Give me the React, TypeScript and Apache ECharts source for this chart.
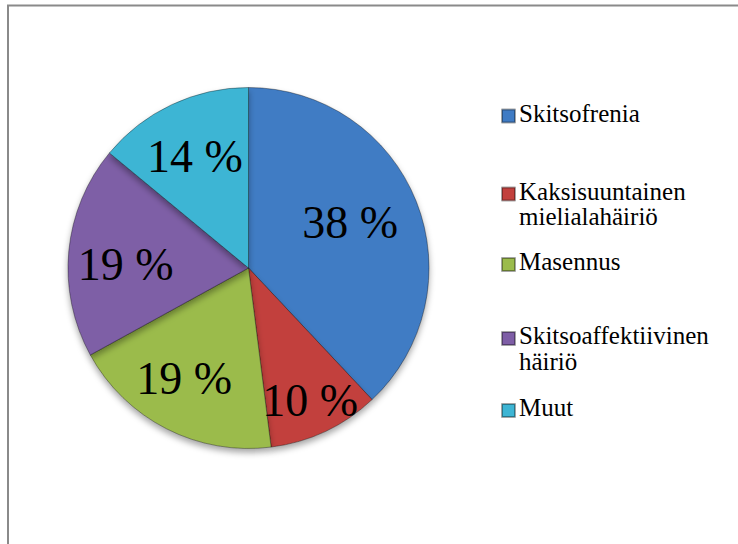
import React, { useEffect, useRef } from 'react';
import * as echarts from 'echarts';

const categories = [
  'Skitsofrenia',
  'Kaksisuuntainen mielialahäiriö',
  'Masennus',
  'Skitsoaffektiivinen häiriö',
  'Muut',
];
// legend texts as wrapped in the reference
const legendLines = [
  ['Skitsofrenia'],
  ['Kaksisuuntainen', 'mielialahäiriö'],
  ['Masennus'],
  ['Skitsoaffektiivinen', 'häiriö'],
  ['Muut'],
];
const shares = [38, 10, 19, 19, 14];
const colors = ['#3F7BC4', '#C2403D', '#9BBB4C', '#7E5EA6', '#3EB5D4'];

const labelNudges = [
  [15, -11],
  [22, 48],
  [-22, 27],
  [-30, 5],
  [-14, -27],
];
const legendIconCenters = [115, 193, 263.5, 337.5, 409.5];
const LINE_GAP = 25.5;
const serif = 'Liberation Serif';
const LEGEND_BASE_SIZE = 18;
const LEGEND_SCALE = 25 / 18;

export default function App() {
  const ref = useRef<HTMLDivElement>(null);
  useEffect(() => {
    if (!ref.current) return;
    const chart = echarts.init(ref.current, undefined, { renderer: 'svg' });
    const legends = categories.map((name, i) => ({
      data: [name],
      orient: 'vertical',
      left: 501,
      top: legendIconCenters[i] - 6.5,
      padding: 0,
      itemWidth: 13,
      itemHeight: 13,
      icon: 'rect',
      selectedMode: false,
      formatter: () => '',
      textStyle: { fontSize: 1, lineHeight: 1 },
    }));
    const legendTexts: any[] = [];
    legendLines.forEach((lines, i) => {
      lines.forEach((line, j) => {
        legendTexts.push({
          type: 'text',
          silent: true,
          x: 519,
          y: legendIconCenters[i] - 14.5 + j * LINE_GAP,
          scaleX: LEGEND_SCALE,
          scaleY: LEGEND_SCALE,
          style: {
            text: line,
            fill: '#000',
            fontFamily: serif,
            fontSize: LEGEND_BASE_SIZE,
          },
        });
      });
    });
    chart.setOption({
      animation: false,
      backgroundColor: '#ffffff',
      graphic: [
        {
          type: 'rect',
          silent: true,
          z: -1,
          shape: { x: 8, y: 5.5, width: 780, height: 580 },
          style: { fill: 'none', stroke: '#8a8a8a', lineWidth: 2 },
        },
        ...legendTexts,
      ],
      legend: legends,
      series: [
        {
          type: 'pie',
          center: [248.5, 268],
          radius: [0, 180.5],
          startAngle: 90,
          clockwise: true,
          avoidLabelOverlap: false,
          emphasis: { disabled: true },
          itemStyle: {
            borderColor: 'rgba(0,0,0,0.35)',
            borderWidth: 1,
            shadowColor: 'rgba(0,0,0,0.35)',
            shadowBlur: 6,
            shadowOffsetY: 4,
          },
          label: {
            show: true,
            position: 'inside',
            formatter: (p: any) => p.value + ' %',
            fontFamily: serif,
            fontSize: 46,
            color: '#000',
          },
          labelLine: { show: false },
          labelLayout: (p: any) => ({
            dx: labelNudges[p.dataIndex][0],
            dy: labelNudges[p.dataIndex][1],
          }),
          data: categories.map((name, i) => ({
            name,
            value: shares[i],
            itemStyle: { color: colors[i] },
          })),
        },
      ],
    });
    return () => chart.dispose();
  }, []);
  return (
    <div
      ref={ref}
      style={{ position: 'fixed', left: 0, top: 0, width: 738, height: 544, background: '#fff' }}
    />
  );
}
